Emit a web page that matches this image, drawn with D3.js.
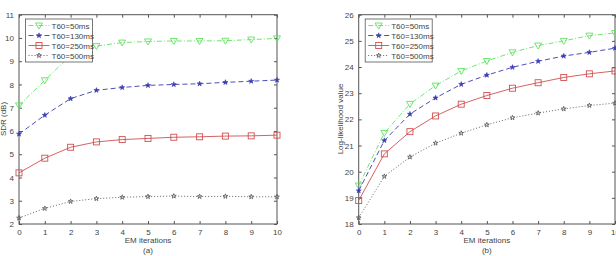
<!DOCTYPE html>
<html>
<head>
<style>
  body, html { margin: 0; padding: 0; background: #fff; overflow: hidden; }
  svg { display: block; }
  text { font-family: "Liberation Sans", Arial, sans-serif; fill: #444; }
</style>
<script src="https://d3js.org/d3.v7.min.js"></script>
</head>
<body>
<svg id="chart" width="616" height="256"></svg>
<script>
const iterations = [0, 1, 2, 3, 4, 5, 6, 7, 8, 9, 10];
const seriesNames = ['T60=50ms', 'T60=130ms', 'T60=250ms', 'T60=500ms'];

// (a) SDR (dB)
const sdr50  = [7.1, 8.18, 9.25, 9.65, 9.8, 9.85, 9.87, 9.87, 9.88, 9.93, 9.98];
const sdr130 = [5.87, 6.68, 7.39, 7.75, 7.87, 7.96, 8.0, 8.03, 8.09, 8.14, 8.19];
const sdr250 = [4.2, 4.83, 5.3, 5.53, 5.63, 5.68, 5.73, 5.75, 5.78, 5.79, 5.82];
const sdr500 = [2.26, 2.67, 2.97, 3.09, 3.15, 3.18, 3.2, 3.18, 3.19, 3.17, 3.17];

// (b) Log-likelihood value
const ll50  = [19.47, 21.48, 22.59, 23.29, 23.85, 24.23, 24.56, 24.82, 25.0, 25.2, 25.3];
const ll130 = [19.27, 21.19, 22.2, 22.82, 23.34, 23.69, 23.99, 24.22, 24.42, 24.56, 24.72];
const ll250 = [18.9, 20.68, 21.53, 22.13, 22.58, 22.91, 23.19, 23.4, 23.6, 23.74, 23.85];
const ll500 = [18.24, 19.82, 20.56, 21.09, 21.47, 21.79, 22.06, 22.24, 22.4, 22.53, 22.62];

const sdrTicks = [2, 3, 4, 5, 6, 7, 8, 9, 10, 11];
const llTicks = [18, 19, 20, 21, 22, 23, 24, 25, 26];

const styles = [
  { color: '#5fe35f', dash: '5,2,1,2', marker: 'tri' },
  { color: '#3a3ab0', dash: '5,3', marker: 'star' },
  { color: '#d05050', dash: null, marker: 'square' },
  { color: '#555', dash: '1,2', marker: 'hex' }
];

const svg = d3.select('#chart');

function drawMarker(g, type, color) {
  if (type === 'tri') {
    g.append('path').attr('d', 'M-3.5,-2.5L3.5,-2.5L0,3.5Z')
      .attr('fill', 'none').attr('stroke', color).attr('stroke-width', 0.9);
  } else if (type === 'star') {
    g.append('path').attr('d', d3.symbol(d3.symbolStar, 8)())
      .attr('fill', color).attr('stroke', color).attr('stroke-width', 0.6);
  } else if (type === 'square') {
    g.append('rect').attr('x', -3).attr('y', -3).attr('width', 6).attr('height', 6)
      .attr('fill', 'none').attr('stroke', color).attr('stroke-width', 0.9);
  } else {
    g.append('path').attr('d', d3.symbol(d3.symbolStar, 7)())
      .attr('fill', 'none').attr('stroke', color).attr('stroke-width', 0.8);
  }
}

function panel(opts) {
  const x = d3.scaleLinear().domain([0, 10]).range([opts.x0, opts.x1]);
  const y = d3.scaleLinear().domain(opts.yDomain).range([224, 14.7]);
  const g = svg.append('g');

  // frame
  g.append('rect').attr('x', opts.x0).attr('y', 14.7)
    .attr('width', opts.x1 - opts.x0).attr('height', 224 - 14.7)
    .attr('fill', 'none').attr('stroke', '#555').attr('stroke-width', 1);

  // inward ticks on all sides
  const bottom = g.append('g').attr('transform', 'translate(0,224)')
    .call(d3.axisBottom(x).tickValues(iterations).tickSizeInner(-3).tickSizeOuter(0).tickPadding(5));
  const top = g.append('g').attr('transform', 'translate(0,14.7)')
    .call(d3.axisTop(x).tickValues(iterations).tickSizeInner(-3).tickSizeOuter(0).tickFormat(''));
  const left = g.append('g').attr('transform', `translate(${opts.x0},0)`)
    .call(d3.axisLeft(y).tickValues(opts.ticks).tickSizeInner(-3).tickSizeOuter(0).tickPadding(5));
  const right = g.append('g').attr('transform', `translate(${opts.x1},0)`)
    .call(d3.axisRight(y).tickValues(opts.ticks).tickSizeInner(-3).tickSizeOuter(0).tickFormat(''));
  [bottom, top, left, right].forEach(a => {
    a.select('.domain').remove();
    a.selectAll('line').attr('stroke', '#555');
    a.selectAll('text').style('font-size', '8px').style('fill', '#444');
  });

  // series
  const line = d3.line().x((d, i) => x(iterations[i])).y(d => y(d));
  opts.series.forEach((vals, si) => {
    const st = styles[si];
    g.append('path').datum(vals).attr('d', line)
      .attr('fill', 'none').attr('stroke', st.color).attr('stroke-width', 0.9)
      .attr('stroke-dasharray', st.dash);
    vals.forEach((v, i) => {
      const m = g.append('g').attr('transform', `translate(${x(iterations[i])},${y(v)})`);
      drawMarker(m, st.marker, st.color);
    });
  });

  // legend
  const lx = opts.x0 + 6.5, ly = 19;
  const leg = g.append('g');
  leg.append('rect').attr('x', lx).attr('y', ly).attr('width', 67).attr('height', 43)
    .attr('fill', '#fff').attr('stroke', '#555').attr('stroke-width', 0.8);
  seriesNames.forEach((name, si) => {
    const st = styles[si];
    const ry = ly + 6.5 + si * 10;
    leg.append('line').attr('x1', lx + 3).attr('x2', lx + 24).attr('y1', ry).attr('y2', ry)
      .attr('stroke', st.color).attr('stroke-width', 0.9).attr('stroke-dasharray', st.dash);
    drawMarker(leg.append('g').attr('transform', `translate(${lx + 13.5},${ry})`), st.marker, st.color);
    leg.append('text').attr('x', lx + 26).attr('y', ry + 3).text(name)
      .style('font-size', '8px');
  });

  // labels
  const cx = (opts.x0 + opts.x1) / 2;
  g.append('text').attr('x', cx).attr('y', 243).attr('text-anchor', 'middle')
    .style('font-size', '8px').text('EM iterations');
  g.append('text').attr('x', cx).attr('y', 253).attr('text-anchor', 'middle')
    .style('font-size', '8px').text(opts.tag);
  g.append('text').attr('transform', `translate(${opts.labelX},119) rotate(-90)`)
    .attr('text-anchor', 'middle').style('font-size', '8px').text(opts.yLabel);
}

panel({
  x0: 19, x1: 277, yDomain: [2, 11], ticks: sdrTicks,
  series: [sdr50, sdr130, sdr250, sdr500],
  yLabel: 'SDR (dB)', labelX: 6, tag: '(a)'
});

panel({
  x0: 358.7, x1: 615, yDomain: [18, 26], ticks: llTicks,
  series: [ll50, ll130, ll250, ll500],
  yLabel: 'Log-likelihood value', labelX: 343, tag: '(b)'
});
</script>
</body>
</html>
